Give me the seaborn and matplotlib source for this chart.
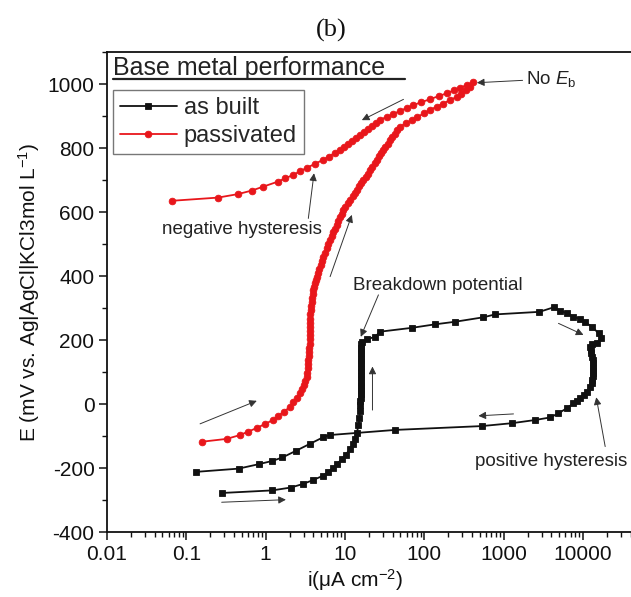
import numpy as np
import pandas as pd
import seaborn as sns
import matplotlib.pyplot as plt
from matplotlib.lines import Line2D
from matplotlib.ticker import FixedLocator, MultipleLocator, LogLocator, NullFormatter

# as built: forward scan, pit growth loop, reverse scan (i in uA cm-2, E in mV)
asbuilt_i = [0.284, 1.21, 2.08, 2.94, 3.94, 5.30, 6.17, 7.10, 7.94, 9.08, 10.2, 11.6, 12.6, 13.5,
             14.1, 14.8, 15.2, 15.5, 15.6, 15.6, 15.7, 15.7, 15.7, 15.8, 15.8, 15.8, 15.9, 15.9,
             15.9, 15.9, 15.9, 16.0, 16.0, 16.0, 16.0, 16.1, 16.1, 16.3, 18.8, 24.0, 27.7, 69.6,
             137, 244, 556, 781, 2830, 4250, 5160, 6270, 7590, 9220, 10660, 12950, 15700, 16830,
             14970, 12950,
             12330, 12600, 12800, 12950, 13200, 13400, 13500, 13560, 13500, 13300, 13100, 12950,
             12150, 11190, 10230, 9220, 8410, 7590, 6270, 4910, 3860, 2500, 1270, 531, 42.9,
             6.43, 5.30, 3.58, 2.42, 1.63, 1.21, 0.82, 0.455, 0.134]
asbuilt_E = [-278, -270, -261, -250, -238, -224, -212, -199, -187, -173, -158, -141, -125, -109,
             -90, -67, -45, -22, -3, 8, 20, 30, 40, 50, 60, 70, 80, 91,
             102, 113, 125, 135, 145, 155, 165, 176, 187, 195, 202, 210, 226, 238,
             249, 257, 271, 280, 288, 302, 292, 283, 273, 265, 255, 242, 221, 205,
             192, 187,
             179, 168, 158, 148, 137, 127, 116, 106, 96, 86, 75, 65,
             52, 38, 28, 18, 10, 2, -13, -29, -42, -50, -60, -69, -81,
             -97, -104, -125, -146, -167, -178, -188, -202, -212]

# passivated: forward scan up to the vertex, then reverse scan
passivated_i = [0.156, 0.323, 0.475, 0.593, 0.773, 0.968, 1.24, 1.43, 1.70, 2.03, 2.23, 2.45,
                2.72, 2.85, 3.00, 3.15, 3.30, 3.33, 3.37, 3.41, 3.45, 3.50, 3.54, 3.56, 3.57,
                3.58, 3.59, 3.60, 3.61, 3.61, 3.63, 3.66, 3.71, 3.76, 3.81, 3.86, 3.92, 3.96,
                4.07, 4.19, 4.31, 4.41, 4.57, 4.73, 4.92, 5.11, 5.30, 5.57, 5.86, 6.17, 6.49,
                6.81, 7.14, 7.48, 7.85, 8.26, 8.67, 9.06, 9.46, 10.1, 10.9, 11.7, 12.5, 13.3,
                14.1, 15.1, 16.1, 17.1, 18.2, 19.4, 20.7, 22.1, 23.7, 25.2, 27.0, 28.6, 30.2,
                32.4, 34.6, 37.1, 39.6, 42.5, 45.7, 49.5, 58.6, 69.2, 81.8, 98.4, 118, 143,
                173, 209, 257, 290, 331, 378, 412,
                344, 282, 235, 192, 151, 119, 91.6, 72.3, 59.8, 49.7, 40.4, 33.4, 27.7, 24.5,
                21.9, 19.6, 17.3, 15.5, 13.9, 12.2, 11.0, 9.68, 8.67, 7.40, 6.21, 5.30, 4.22,
                3.30, 2.70, 2.22, 1.76, 1.43, 0.927, 0.668, 0.449, 0.251, 0.0655]
passivated_E = [-118, -109, -97, -87, -75, -63, -50, -38, -24, -9, 5, 19,
                34, 47, 60, 73, 85, 98, 111, 124, 137, 150, 163, 176, 189,
                202, 215, 228, 241, 254, 267, 280, 293, 306, 319, 332, 345, 356,
                367, 378, 389, 398, 410, 422, 435, 448, 460, 473, 486, 499, 512,
                524, 536, 548, 560, 572, 584, 595, 606, 617, 628, 639, 650, 660,
                669, 680, 690, 700, 710, 720, 731, 742, 753, 764, 775, 785, 794,
                804, 814, 824, 834, 844, 855, 867, 877, 887, 897, 908, 919, 929,
                939, 949, 960, 970, 981, 992, 1006,
                997, 988, 980, 971, 962, 953, 943, 934, 925, 916, 906, 897, 888, 878,
                869, 860, 850, 841, 832, 822, 813, 803, 794, 784, 773, 763, 751,
                738, 727, 716, 705, 695, 679, 667, 656, 645, 635]

xtick_vals = [0.01, 0.1, 1, 10, 100, 1000, 10000]
xtick_labels = ['0.01', '0.1', '1', '10', '100', '1000', '10000']
ytick_vals = [-400, -200, 0, 200, 400, 600, 800, 1000]

black = '#111111'
red = '#e8161b'

sns.set_style('ticks')
plt.rcParams['font.family'] = ['Liberation Sans', 'DejaVu Sans']
plt.rcParams['axes.unicode_minus'] = False
plt.rcParams['mathtext.fontset'] = 'custom'
plt.rcParams['mathtext.rm'] = 'Liberation Sans'
plt.rcParams['mathtext.it'] = 'Liberation Sans:italic'

df_ab = pd.DataFrame({'i': asbuilt_i, 'E': asbuilt_E})
df_pa = pd.DataFrame({'i': passivated_i, 'E': passivated_E})

fig = plt.figure(figsize=(6.31, 5.97), dpi=100)
ax = fig.add_axes([107 / 631, 65 / 597, 524 / 631, 480 / 597])

sns.lineplot(data=df_ab, x='i', y='E', sort=False, estimator=None, ax=ax, color=black,
             linewidth=1.3, marker='s', markersize=4.3, markeredgecolor=black,
             markerfacecolor=black, markeredgewidth=0.6, label='as built')
sns.lineplot(data=df_pa, x='i', y='E', sort=False, estimator=None, ax=ax, color=red,
             linewidth=1.3, marker='o', markersize=4.8, markeredgecolor=red,
             markerfacecolor=red, markeredgewidth=0.6, label='passivated')

ax.set_xscale('log')
ax.set_xlim(0.01, 40300)
ax.set_ylim(-400, 1100)
ax.xaxis.set_major_locator(FixedLocator(xtick_vals))
ax.set_xticklabels(xtick_labels)
ax.xaxis.set_minor_locator(LogLocator(base=10, subs=np.arange(2, 10), numticks=20))
ax.xaxis.set_minor_formatter(NullFormatter())
ax.set_yticks(ytick_vals)
ax.yaxis.set_minor_locator(MultipleLocator(100))
ax.tick_params(which='major', direction='out', length=6, width=1.1, labelsize=15,
               colors=black, pad=3)
ax.tick_params(which='minor', direction='out', length=3.5, width=1.0, colors=black)
for side in ['left', 'bottom', 'top']:
    ax.spines[side].set_linewidth(1.3)
    ax.spines[side].set_color(black)
ax.spines['right'].set_visible(False)

ax.set_xlabel('i(\u03bcA cm$^{-2}$)', fontsize=15, color=black, labelpad=0)
ax.set_ylabel('E (mV vs. Ag|AgCl|KCl3mol L$^{-1}$)', fontsize=15, color=black, labelpad=4)
ax.xaxis.set_label_coords((355 - 107) / 524, -0.074)

leg = ax.legend(loc='upper left', bbox_to_anchor=(113 / 631, 1 - 90 / 597),
                bbox_transform=fig.transFigure, fontsize=17, frameon=True, fancybox=False,
                edgecolor='#777777', framealpha=1, borderpad=0.3, borderaxespad=0,
                handlelength=2.4, handletextpad=0.3, labelspacing=0.25, markerscale=1.0)
leg.get_frame().set_linewidth(1.0)

fig.text(113 / 631, 1 - 75 / 597, 'Base metal performance', fontsize=18, color='#222222',
         va='baseline', ha='left')
fig.add_artist(Line2D([113 / 631, 405 / 631], [1 - 78.5 / 597, 1 - 78.5 / 597],
                      transform=fig.transFigure, color='#222222', linewidth=1.6))
fig.text(331 / 631, 1 - 30 / 597, '(b)', fontsize=19, family='Liberation Serif',
         ha='center', va='center', color=black)

arrow = dict(arrowstyle='-|>', color='#333333', lw=0.7, mutation_scale=11, shrinkA=0, shrinkB=0)
txt = dict(fontsize=13.5, color='#222222', va='center', ha='left')

ax.annotate('No $E_\\mathrm{b}$', xy=(460, 1004), xytext=(1905, 1016), arrowprops=arrow, **txt)
ax.annotate('negative hysteresis', xy=(4.07, 721), xytext=(0.049, 544), **txt)
ax.annotate('', xy=(4.07, 721), xytext=(3.45, 580), arrowprops=arrow)
ax.annotate('Breakdown potential', xy=(15.8, 210), xytext=(12.8, 369), **txt)
ax.annotate('', xy=(15.8, 210), xytext=(26.4, 341), arrowprops=arrow)
ax.annotate('positive hysteresis', xy=(14700, 21), xytext=(438, -180), **txt)
ax.annotate('', xy=(14700, 21), xytext=(19050, -133), arrowprops=arrow)

# scan direction arrows
ax.annotate('', xy=(0.773, 10), xytext=(0.149, -62), arrowprops=arrow)
ax.annotate('', xy=(12.2, 591), xytext=(6.49, 398), arrowprops=arrow)
ax.annotate('', xy=(16.3, 887), xytext=(54.6, 952), arrowprops=arrow)
ax.annotate('', xy=(22.2, 117), xytext=(22.2, -19), arrowprops=arrow)
ax.annotate('', xy=(10140, 216), xytext=(4910, 252), arrowprops=arrow)
ax.annotate('', xy=(481, -37), xytext=(1330, -31), arrowprops=arrow)
ax.annotate('', xy=(1.80, -299), xytext=(0.279, -307), arrowprops=arrow)

fig.savefig('out.png', dpi=100)
